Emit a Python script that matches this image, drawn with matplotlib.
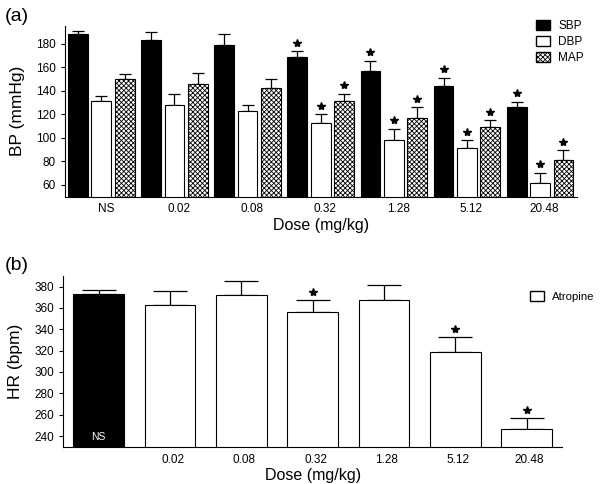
import numpy as np
import matplotlib
matplotlib.use("Agg")
from matplotlib import pyplot as plt
from matplotlib.patches import Patch

plt.rcParams['font.family'] = ['Liberation Sans', 'DejaVu Sans']
plt.rcParams['hatch.linewidth'] = 0.6

doses = ["NS", "0.02", "0.08", "0.32", "1.28", "5.12", "20.48"]

# panel (a): blood pressure
sbp = [188.5, 183.4, 179.0, 168.7, 157.1, 144.1, 125.8]
sbp_err = [2.2, 6.5, 9.0, 4.8, 8.5, 7.1, 5.0]
dbp = [131.4, 127.5, 123.0, 112.2, 97.8, 91.0, 61.1]
dbp_err = [4.2, 9.8, 5.3, 7.6, 9.9, 6.8, 9.3]
map_ = [150.0, 146.0, 142.0, 131.1, 117.0, 108.8, 81.4]
map_err = [4.0, 9.0, 8.0, 6.5, 9.3, 6.2, 7.9]
sbp_sig = [0, 0, 0, 1, 1, 1, 1]
dbp_sig = [0, 0, 0, 1, 1, 1, 1]
map_sig = [0, 0, 0, 1, 1, 1, 1]

# panel (b): heart rate
hr = [373.1, 363.1, 372.5, 355.9, 367.5, 318.6, 246.3]
hr_err = [4.1, 13.1, 13.1, 11.9, 14.1, 14.1, 10.3]
hr_sig = [0, 0, 0, 1, 0, 1, 1]

x = np.arange(len(doses))

fig = plt.figure(figsize=(6, 4.84), dpi=100)
ax1 = fig.add_axes([0.108, 0.594, 0.853, 0.352])
ax2 = fig.add_axes([0.105, 0.077, 0.832, 0.353])

w = 0.27
step = 0.32
series = [(sbp, sbp_err, sbp_sig, 'black', None),
          (dbp, dbp_err, dbp_sig, 'white', None),
          (map_, map_err, map_sig, 'white', 'xxxxxxx')]
for k, (vals, errs, sig, fc, hatch) in enumerate(series):
    pos = x + (k - 1) * step
    ax1.bar(pos, vals, w, bottom=0, color=fc, edgecolor='black', linewidth=0.8,
            hatch=hatch, zorder=2)
    ax1.errorbar(pos, vals, yerr=[np.zeros(len(errs)), errs], fmt='none',
                 ecolor='black', elinewidth=0.9, capsize=4, capthick=0.9, zorder=1)
    for p, v, e, s in zip(pos, vals, errs, sig):
        if s:
            ax1.plot(p, v + e + 7, marker='*', color='black', markersize=6)

ax1.set_xlim(-0.5, 6.5)
ax1.set_ylim(50, 195)
ax1.set_yticks(np.arange(60, 181, 20))
ax1.set_xticks(x + 0.06)
ax1.set_xticklabels(doses)
ax1.tick_params(axis='x', length=0, labelsize=8.5, pad=5)
ax1.tick_params(axis='y', length=3, width=0.8, labelsize=8.5)
ax1.spines['top'].set_visible(False)
ax1.spines['right'].set_visible(False)
ax1.set_ylabel("BP (mmHg)", fontsize=12.5, labelpad=8)
ax1.set_xlabel("Dose (mg/kg)", fontsize=11.5, labelpad=2)
ax1.legend(handles=[Patch(facecolor='black', edgecolor='black', label='SBP'),
                    Patch(facecolor='white', edgecolor='black', label='DBP'),
                    Patch(facecolor='white', edgecolor='black', hatch='xxxxxxx', label='MAP')],
           loc='upper right', bbox_to_anchor=(1.035, 1.1), frameon=False, fontsize=8.5,
           handlelength=1.2, handleheight=0.9, labelspacing=0.35, handletextpad=0.7)
fig.text(0.008, 0.966, "(a)", fontsize=14, va='center')

hr_colors = ['black'] + ['white'] * (len(doses) - 1)
ax2.bar(x, hr, 0.71, bottom=0, color=hr_colors, edgecolor='black', linewidth=0.8, zorder=2)
ax2.errorbar(x, hr, yerr=[np.zeros(len(hr_err)), hr_err], fmt='none', ecolor='black',
             elinewidth=0.9, capsize=12, capthick=0.9, zorder=1)
for p, v, e, s in zip(x, hr, hr_err, hr_sig):
    if s:
        ax2.plot(p, v + e + 7.5, marker='*', color='black', markersize=6)
ax2.text(x[0], 234, "NS", color='white', fontsize=7.5, ha='center', va='bottom')

ax2.set_xlim(-0.5, 6.5)
ax2.set_ylim(230, 390)
ax2.set_yticks(np.arange(240, 381, 20))
ax2.set_xticks(x[1:] + 0.04)
ax2.set_xticklabels(doses[1:])
ax2.tick_params(axis='x', length=0, labelsize=8.5, pad=5)
ax2.tick_params(axis='y', length=3, width=0.8, labelsize=8.5)
ax2.spines['top'].set_visible(False)
ax2.spines['right'].set_visible(False)
ax2.set_ylabel("HR (bpm)", fontsize=12.5, labelpad=8)
ax2.set_xlabel("Dose (mg/kg)", fontsize=11.5, labelpad=2)
ax2.legend(handles=[Patch(facecolor='white', edgecolor='black', label='Atropine')],
           loc='upper right', bbox_to_anchor=(1.085, 0.97), frameon=False, fontsize=8.2,
           handlelength=1.2, handleheight=0.9, handletextpad=0.7)
fig.text(0.008, 0.452, "(b)", fontsize=14, va='center')

fig.savefig("out.png", dpi=100)
